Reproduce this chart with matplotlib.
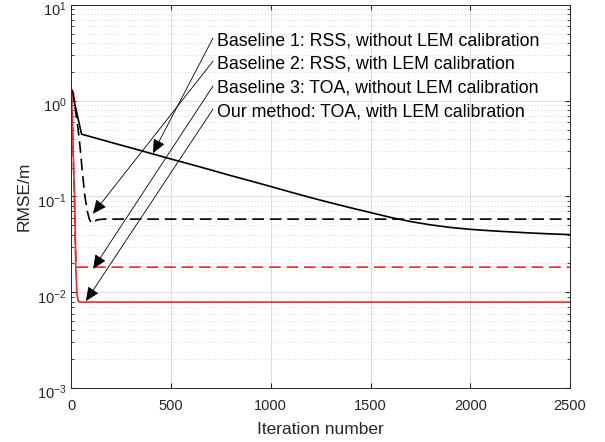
import numpy as np
import matplotlib
matplotlib.use('Agg')
import matplotlib.pyplot as plt
from matplotlib.transforms import ScaledTranslation

plt.rcParams['font.family'] = ['Liberation Sans', 'DejaVu Sans']
plt.rcParams['mathtext.default'] = 'regular'
plt.rcParams['axes.unicode_minus'] = False

# Baseline 1: RSS, without LEM calibration (black solid)
it_b1 = [0, 25, 51, 100, 200, 300, 400, 500, 600, 700, 800, 900, 1000, 1100, 1200, 1300,
         1400, 1500, 1600, 1700, 1800, 1900, 2000, 2100, 2200, 2300, 2400, 2500]
rmse_b1 = [1.32, 0.78, 0.447, 0.419, 0.366, 0.321, 0.281, 0.246, 0.216, 0.189, 0.165, 0.145,
           0.127, 0.111, 0.0973, 0.0859, 0.0762, 0.0679, 0.0605, 0.0548, 0.0506, 0.0475,
           0.0454, 0.0439, 0.0427, 0.0416, 0.0407, 0.0400]

# Baseline 2: RSS, with LEM calibration (black dashed)
it_b2 = [0, 9, 20, 34, 43, 55, 68, 80, 90, 101, 115, 130, 160, 2500]
rmse_b2 = [1.3, 1.22, 0.8, 0.50, 0.337, 0.18, 0.10, 0.07, 0.058, 0.0525, 0.055, 0.057, 0.058, 0.058]

# Baseline 3: TOA, without LEM calibration (red dashed)
it_b3 = [0, 5, 10, 15, 20, 25, 2500]
rmse_b3 = [1.22, 0.6, 0.22, 0.09, 0.03, 0.0183, 0.0183]

# Our method: TOA, with LEM calibration (red solid)
it_ours = [0, 5, 10, 16, 22, 28, 34, 40, 2500]
rmse_ours = [1.22, 0.6, 0.25, 0.1, 0.0185, 0.0095, 0.0081, 0.0079, 0.0079]

labels = ['Baseline 1: RSS, without LEM calibration',
          'Baseline 2: RSS, with LEM calibration',
          'Baseline 3: TOA, without LEM calibration',
          'Our method: TOA, with LEM calibration']

fig = plt.figure(figsize=(6.05, 4.42), dpi=100)
ax = fig.add_axes([0.118, 0.122, 0.824, 0.867])

red = '#f02828'
ax.plot(it_b1, rmse_b1, color='k', lw=1.2)
ax.plot(it_b2, rmse_b2, color='k', lw=1.2, dashes=(7, 3.5))
ax.plot(it_b3, rmse_b3, color=red, lw=1.2, dashes=(7, 3.5))
ax.plot(it_ours, rmse_ours, color=red, lw=1.2)

ax.set_yscale('log')
ax.set_xlim(0, 2500)
ax.set_ylim(1e-3, 1e1)
ax.set_xticks([0, 500, 1000, 1500, 2000, 2500])

ax.grid(True, which='major', color='#dcdcdc', lw=0.7, ls='-')
ax.grid(True, which='minor', axis='y', color='#c8c8c8', lw=0.6, ls=(0, (1, 3)))
ax.set_axisbelow(True)

ax.tick_params(which='both', direction='in', top=True, right=True, labelsize=10.5, colors='#262626')
ax.tick_params(axis='x', which='major', pad=8)
ax.tick_params(axis='x', which='minor', top=False, bottom=False)
for s in ax.spines.values():
    s.set_color('#262626')
    s.set_linewidth(0.7)

ax.set_xlabel('Iteration number', fontsize=12.5, color='#262626', labelpad=6)
ax.set_ylabel('RMSE/m', fontsize=12.5, color='#262626')

# nudge y tick labels down a little, like the base "10" sitting on the tick
fig.canvas.draw()
for lab in ax.get_yticklabels():
    lab.set_transform(lab.get_transform() + ScaledTranslation(0, -2.5 / 72, fig.dpi_scale_trans))

# annotations: (text y, arrow tail, arrow tip)
text_y = [4.18, 2.41, 1.35, 0.758]
tails = [(710, 4.5), (710, 2.58), (710, 1.42), (710, 0.815)]
tips = [(409, 0.283), (108, 0.066), (109, 0.0176), (73, 0.0081)]
for lab, ty, tail, tip in zip(labels, text_y, tails, tips):
    ax.annotate('', xy=tip, xytext=tail,
                arrowprops=dict(arrowstyle='-|>,head_length=0.85,head_width=0.38',
                                color='k', lw=0.6, shrinkA=0, shrinkB=0))
    ax.text(730, ty, lab, fontsize=12.8, va='center', ha='left', color='k')

fig.savefig('out.png', dpi=100)
